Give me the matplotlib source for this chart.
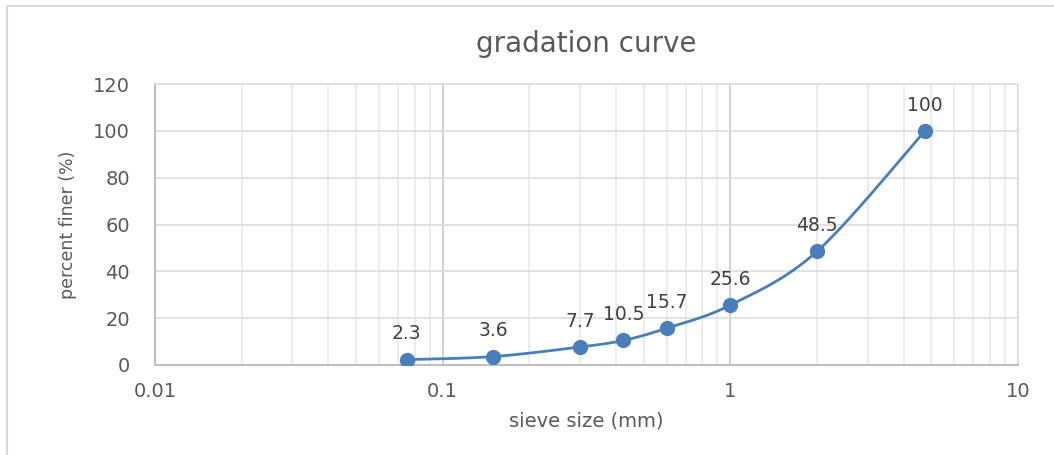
import numpy as np
import matplotlib
matplotlib.use("Agg")
import matplotlib.pyplot as plt
from matplotlib.patches import Rectangle
from matplotlib.ticker import LogLocator, FixedLocator, NullFormatter

# Sieve analysis results
sieve_mm = [0.075, 0.15, 0.3, 0.425, 0.6, 1.0, 2.0, 4.75]
percent_finer = [2.3, 3.6, 7.7, 10.5, 15.7, 25.6, 48.5, 100]
x_tick_labels = ["0.01", "0.1", "1", "10"]
y_ticks = [0, 20, 40, 60, 80, 100, 120]

LINE_BLUE = "#4A7EBB"
TEXT_GREY = "#595959"
FONT = "DejaVu Sans"


def smooth_curve(xs, ys, steps=40):
    """Cardinal (Catmull-Rom) Bezier smoothing in log-x space."""
    u = np.log10(np.asarray(xs, float))
    v = np.asarray(ys, float)
    pts = np.column_stack([u, v])
    n = len(pts)
    out = []
    t = np.linspace(0, 1, steps)[:, None]
    for i in range(n - 1):
        p0 = pts[max(i - 1, 0)]
        p1 = pts[i]
        p2 = pts[i + 1]
        p3 = pts[min(i + 2, n - 1)]
        c1 = p1 + (p2 - p0) / 6.0
        c2 = p2 - (p3 - p1) / 6.0
        seg = ((1 - t) ** 3) * p1 + 3 * ((1 - t) ** 2) * t * c1 \
            + 3 * (1 - t) * t ** 2 * c2 + t ** 3 * p2
        out.append(seg if i == 0 else seg[1:])
    curve = np.vstack(out)
    return 10 ** curve[:, 0], curve[:, 1]


fig = plt.figure(figsize=(10.54, 4.55), dpi=100)
fig.patches.append(Rectangle((7 / 1054, -0.1), 1.2, 1 - 6 / 455 + 0.1,
                             transform=fig.transFigure, fill=False,
                             edgecolor="#D9D9D9", linewidth=1.5))

ax = fig.add_axes([155 / 1054, 1 - 365 / 455, (1018 - 155) / 1054, (365 - 84) / 455])
ax.set_xscale("log")
ax.set_xlim(0.01, 10)
ax.set_ylim(0, 120)

ax.xaxis.set_major_locator(FixedLocator([0.01, 0.1, 1, 10]))
ax.set_xticklabels(x_tick_labels)
ax.xaxis.set_minor_locator(LogLocator(base=10, subs=np.arange(2, 10)))
ax.xaxis.set_minor_formatter(NullFormatter())
ax.set_yticks(y_ticks)

ax.grid(which="major", axis="x", color="#C8C8C8", linewidth=1.2)
ax.grid(which="minor", axis="x", color="#E8E8E8", linewidth=1.2)
ax.grid(which="major", axis="y", color="#DDDDDD", linewidth=1.2)
ax.set_axisbelow(True)

for side in ["left", "bottom"]:
    ax.spines[side].set_color("#BFBFBF")
    ax.spines[side].set_linewidth(1.5)
for side in ["top", "right"]:
    ax.spines[side].set_color("#DDDDDD")
    ax.spines[side].set_linewidth(1.2)

ax.tick_params(which="both", length=0)
ax.tick_params(axis="y", pad=18, labelsize=14, labelcolor=TEXT_GREY)
ax.tick_params(axis="x", pad=12, labelsize=14, labelcolor=TEXT_GREY)
for lab in ax.get_xticklabels() + ax.get_yticklabels():
    lab.set_fontfamily(FONT)

cx, cy = smooth_curve(sieve_mm, percent_finer)
ax.plot(cx, cy, color=LINE_BLUE, linewidth=2.0, solid_capstyle="round", zorder=3)
ax.plot(sieve_mm, percent_finer, "o", color=LINE_BLUE, markersize=10, zorder=4)

for xv, yv in zip(sieve_mm, percent_finer):
    lab = f"{yv:g}"
    ax.annotate(lab, (xv, yv), xytext=(0, 18.5), textcoords="offset points",
                ha="center", va="center", fontsize=13.5, color="#404040",
                family=FONT)

fig.text(586 / 1054, 1 - 44 / 455, "gradation curve", ha="center", va="center",
         fontsize=20, color=TEXT_GREY, family=FONT)
fig.text(586 / 1054, 1 - 421 / 455, "sieve size (mm)", ha="center", va="center",
         fontsize=14, color=TEXT_GREY, family=FONT)
fig.text(68 / 1054, 1 - 225 / 455, "percent finer (%)", ha="center", va="center",
         rotation=90, fontsize=12.5, color=TEXT_GREY, family=FONT)

fig.savefig("out.png", dpi=100, facecolor="white")
